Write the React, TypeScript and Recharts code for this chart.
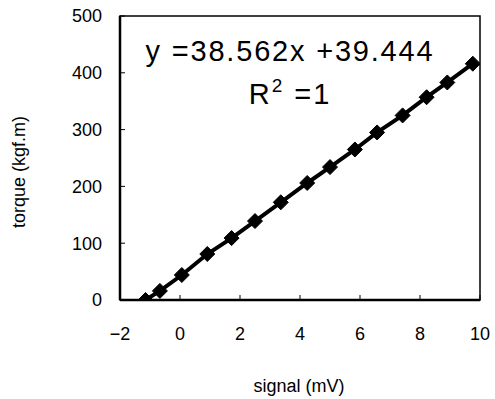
import React from 'react';
import { ScatterChart, Scatter, XAxis, YAxis, ReferenceArea } from 'recharts';

const signal = [-1.15, -0.67, 0.06, 0.91, 1.72, 2.5, 3.36, 4.24, 5.0, 5.83, 6.57, 7.42, 8.22, 8.91, 9.76];
const torque = [0, 16, 44, 81, 109, 139, 172, 206, 234, 265, 295, 325, 357, 383, 416];
const xTicks = [-2, 0, 2, 4, 6, 8, 10];
const yTicks = [0, 100, 200, 300, 400, 500];
const equationText = 'y =38.562x +39.444';
const r2Label = 'R';
const r2Value = ' =1';

const data = signal.map((s, i) => ({ signal: s, torque: torque[i] }));

const FONT = '"Liberation Sans", Arial, Helvetica, sans-serif';

const Diamond = (props: any) => {
  const { cx, cy } = props;
  if (cx == null || cy == null) return null;
  const r = 7.5;
  return (
    <polygon
      points={`${cx},${cy - r} ${cx + r},${cy} ${cx},${cy + r} ${cx - r},${cy}`}
      fill="#000"
      stroke="#000"
      strokeWidth={1}
    />
  );
};

const fmt = (v: number) => (v < 0 ? `\u2212${Math.abs(v)}` : `${v}`);

export default function App() {
  return (
    <div style={{ position: 'absolute', left: 0, top: 0, width: 495, height: 399, background: '#fff' }}>
      <ScatterChart width={495} height={399} margin={{ top: 16, right: 15, bottom: 39, left: 60 }}>
        <ReferenceArea x1={-2} x2={10} y1={0} y2={500} fill="none" stroke="#000" strokeWidth={1.5} ifOverflow="visible" />
        <XAxis
          type="number"
          dataKey="signal"
          domain={[-2, 10]}
          ticks={xTicks}
          allowDataOverflow
          height={60}
          axisLine={{ stroke: '#000', strokeWidth: 2.5 }}
          tickLine={{ stroke: '#000', strokeWidth: 1 }}
          tickSize={-5}
          tickMargin={32}
          tickFormatter={fmt}
          tick={{ fill: '#000', fontSize: 18, fontFamily: FONT }}
        />
        <YAxis
          type="number"
          dataKey="torque"
          domain={[0, 500]}
          ticks={yTicks}
          allowDataOverflow
          width={60}
          axisLine={{ stroke: '#000', strokeWidth: 2.5 }}
          tickLine={{ stroke: '#000', strokeWidth: 1 }}
          tickSize={-5}
          tickMargin={23}
          tick={{ fill: '#000', fontSize: 18, fontFamily: FONT }}
        />
        <Scatter
          data={data}
          isAnimationActive={false}
          line={{ stroke: '#000', strokeWidth: 4 }}
          lineType="joint"
          shape={Diamond}
        />
        <text x={290} y={61} textAnchor="middle" fontSize={29} fontFamily={FONT} fill="#000" letterSpacing={1.8}>
          {equationText}
        </text>
        <text x={290} y={104} textAnchor="middle" fontSize={29} fontFamily={FONT} fill="#000" letterSpacing={2}>
          {r2Label}
          <tspan fontSize={19} dy={-12}>2</tspan>
          <tspan dy={12}>{r2Value}</tspan>
        </text>
        <text
          x={19}
          y={172}
          transform="rotate(-90 19 172)"
          textAnchor="middle"
          dominantBaseline="central"
          fontSize={18}
          fontFamily={FONT}
          fill="#000"
        >
          torque (kgf.m)
        </text>
        <text x={299} y={392} textAnchor="middle" fontSize={18} fontFamily={FONT} fill="#000">
          signal (mV)
        </text>
      </ScatterChart>
    </div>
  );
}
